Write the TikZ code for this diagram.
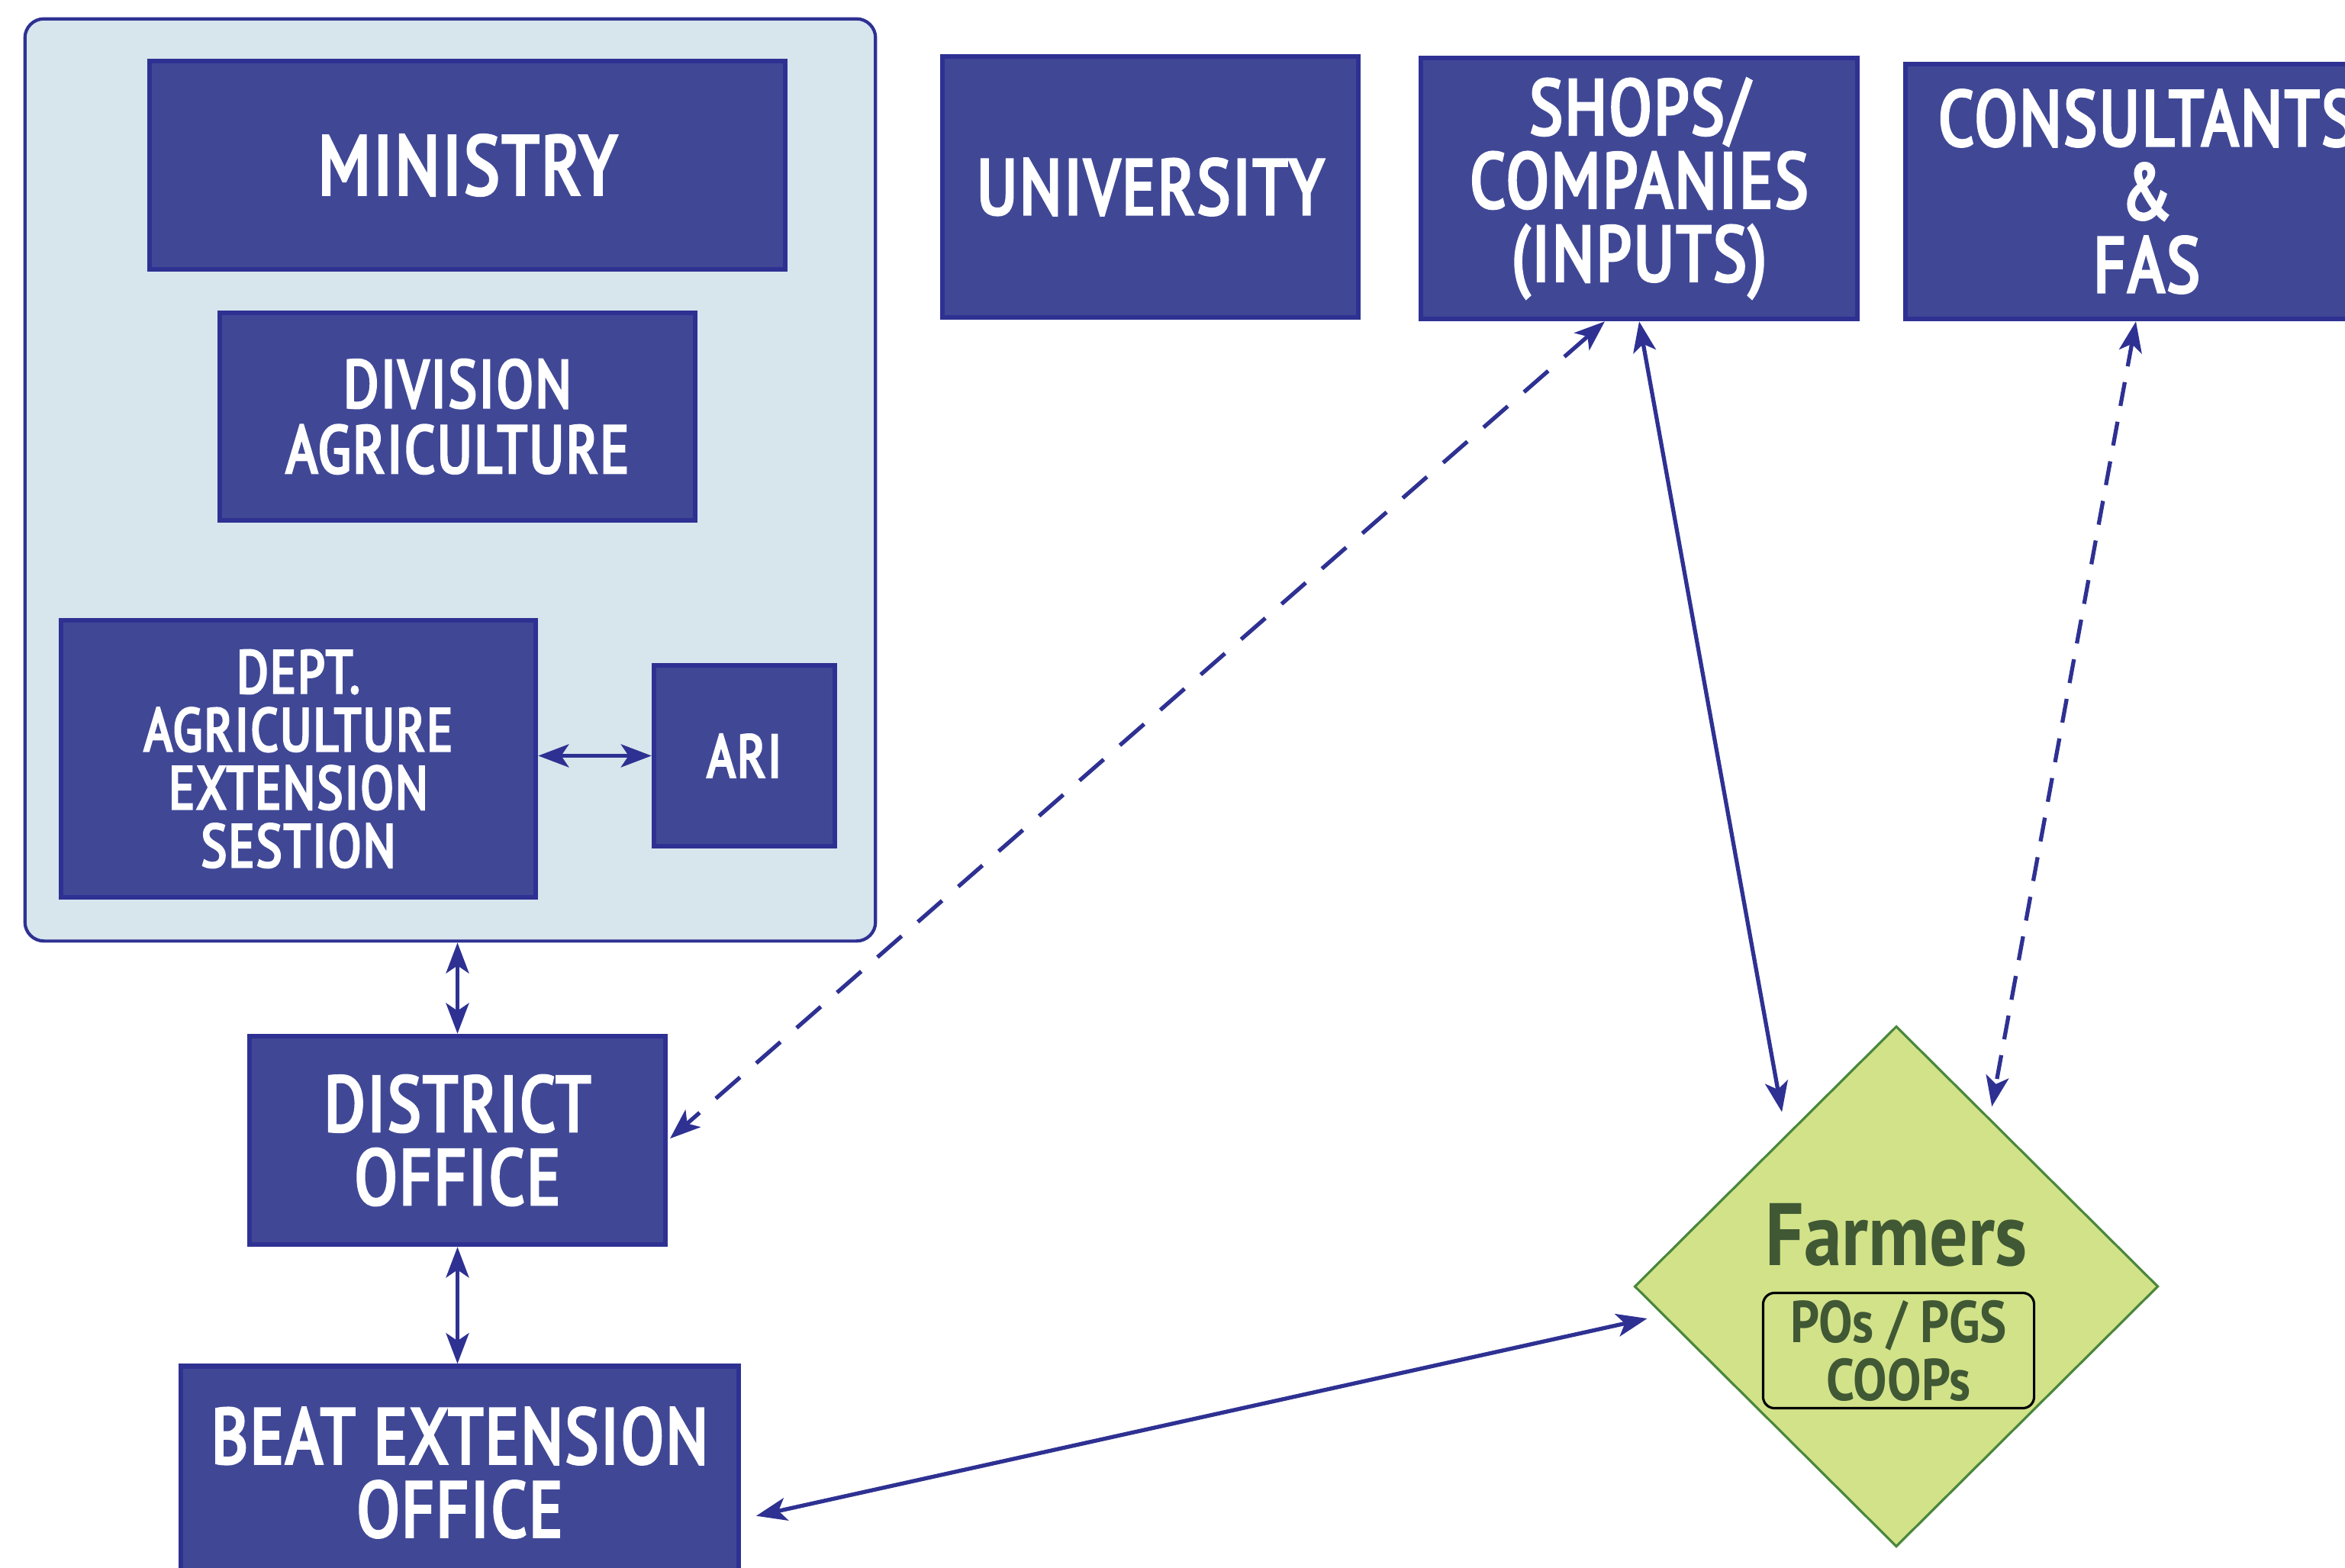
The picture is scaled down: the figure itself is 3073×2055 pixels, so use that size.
\documentclass[tikz,border=0pt]{standalone}
\usepackage{fontspec}
\setmainfont{PT Sans}[FakeStretch=0.8, LetterSpace=3, FakeBold=4]
\newfontfamily\heavyfont{PT Sans Bold}[FakeStretch=0.86]
\usepackage{tikz}
\usetikzlibrary{arrows.meta,positioning,calc,shapes}

\definecolor{boxblue}{RGB}{64,72,150}
\definecolor{edgeblue}{RGB}{46,49,146}
\definecolor{groupgrey}{RGB}{215,229,236}
\definecolor{farmgreen}{RGB}{210,226,137}
\definecolor{farmedge}{RGB}{74,135,60}
\definecolor{farmtext}{RGB}{64,88,52}

\tikzset{
  orgbox/.style={draw=edgeblue, fill=boxblue, line width=1.8pt, text=white, align=center, inner sep=0pt},
  bigtext/.style={font=\fontsize{29}{27.3}\selectfont},
  midtext/.style={font=\fontsize{25}{24.4}\selectfont},
  smalltext/.style={font=\fontsize{22.5}{21.6}\selectfont},
  groupbox/.style={draw=edgeblue, fill=groupgrey, line width=1.2pt, rounded corners=0.25cm, inner sep=0pt},
  farmbox/.style={diamond, draw=farmedge, fill=farmgreen, line width=0.9pt, inner sep=0pt, minimum width=6.86cm, minimum height=6.82cm},
  link/.style={edgeblue, line width=1.5pt, {Stealth[length=0.4cm,width=0.3cm,inset=0.1cm]}-{Stealth[length=0.4cm,width=0.3cm,inset=0.1cm]}},
  longdash/.style={link, dash pattern=on 12pt off 8pt},
  shortdash/.style={link, dash pattern=on 9pt off 6pt}
}

\begin{document}
\begin{tikzpicture}[x=0.01cm,y=-0.01cm]
\useasboundingbox (0,0) rectangle (3073,2055);

% Government block
\node[groupbox, minimum width=11.14cm, minimum height=12.08cm] (gov) at (590,629) {};
\node[orgbox, font=\fontsize{31}{30}\selectfont, minimum width=8.33cm, minimum height=2.73cm] (ministry) at (612.5,216.5) {MINISTRY};
\node[orgbox, midtext, minimum width=6.23cm, minimum height=2.72cm] (division) at (599.5,546) {DIVISION\\AGRICULTURE};
\node[orgbox, smalltext, minimum width=6.22cm, minimum height=3.63cm] (dept) at (391,994.5) {DEPT.\\AGRICULTURE\\EXTENSION\\SESTION};
\node[orgbox, smalltext, minimum width=2.37cm, minimum height=2.37cm] (ari) at (975.5,990.5) {ARI};

% Top row
\node[orgbox, bigtext, minimum width=5.45cm, minimum height=3.42cm] (university) at (1507.5,245) {UNIVERSITY};
\node[orgbox, bigtext, minimum width=5.72cm, minimum height=3.42cm] (shops) at (2148,247) {SHOPS/\\COMPANIES\\(INPUTS)};
\node[orgbox, bigtext, minimum width=6.32cm, minimum height=3.34cm] (consult) at (2813,251) {CONSULTANTS\\\&\\FAS};

% Offices
\node[orgbox, bigtext, minimum width=5.45cm, minimum height=2.73cm] (district) at (599.5,1494.5) {DISTRICT\\OFFICE};
\node[orgbox, bigtext, minimum width=7.31cm, minimum height=2.79cm] (beat) at (602.5,1930) {BEAT EXTENSION\\OFFICE};

% Farmers
\node[farmbox] (farmers) at (2485,1686) {};
\node[text=farmtext, font=\fontsize{33}{33}\selectfont\heavyfont] (farmname) at (2485,1619) {Farmers};
\node[draw=black, line width=0.9pt, rounded corners=0.15cm, text=farmtext, align=center, inner sep=0pt,
      font=\fontsize{22}{21.6}\selectfont\heavyfont, minimum width=3.55cm, minimum height=1.51cm] (coops) at (2488,1770) {POs / PGS\\COOPs};

% Arrows
\draw[link] (dept.east |- ari.west) -- (ari.west);
\draw[link] (district.north |- gov.south) -- (district.north);
\draw[link] (district.south) -- (district.south |- beat.north);
\draw[longdash, shorten >=1pt] ([xshift=-0.45cm]shops.south) -- (district.east);
\draw[link, shorten >=0.3cm] (shops.south) -- (farmers.126);
\draw[shortdash, shorten >=0.15cm] ([xshift=-0.14cm]consult.south) -- (farmers.61);
\draw[link, shorten <=0.2cm, shorten >=0.2cm] ([yshift=-0.61cm]beat.east) -- (farmers.187);
\end{tikzpicture}
\end{document}
